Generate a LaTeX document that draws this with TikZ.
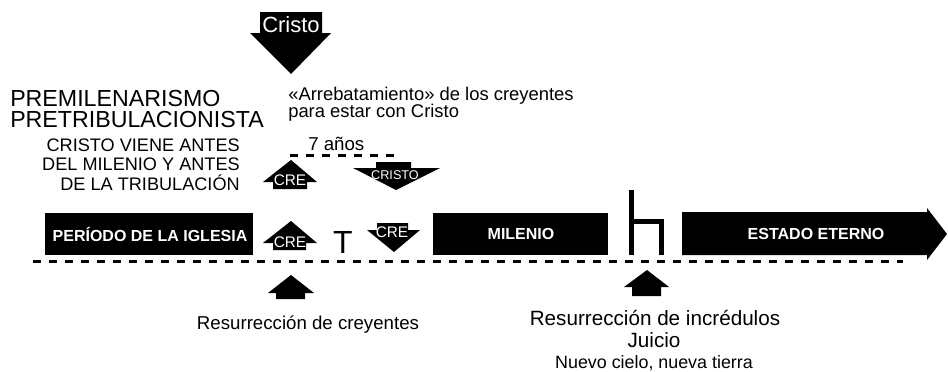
\documentclass[tikz,border=0pt]{standalone}
\usepackage{fontspec}
\setmainfont{Liberation Sans}
\usepackage{tikz}
\usetikzlibrary{positioning}

\begin{document}
\begin{tikzpicture}[x=0.75pt,y=-0.75pt]

	\tikzstyle{block} = [fill=black]
	\tikzstyle{dashline} = [line width=2.25pt, dash pattern=on 6pt off 6pt]
	\tikzstyle{intext} = [text=white, inner sep=0pt]
	\tikzstyle{barlabel} = [text=white, inner sep=0pt, font=\bfseries\fontsize{12}{14}\selectfont]
	\tikzstyle{plain} = [inner sep=0pt]
	\useasboundingbox (0,0) rectangle (948,371);

	% titulo
	\node[plain, anchor=base west, font=\fontsize{17.4}{20}\selectfont] (premil) at (10,106) {PREMILENARISMO};
	\node[plain, anchor=base west, font=\fontsize{17.4}{20}\selectfont] (pretrib) at (10,127) {PRETRIBULACIONISTA};
	\node[plain, anchor=base east, font=\fontsize{13.6}{16}\selectfont] (sub1) at (240,151) {CRISTO VIENE ANTES};
	\node[plain, anchor=base east, font=\fontsize{13.6}{16}\selectfont] (sub2) at (240,170) {DEL MILENIO Y ANTES};
	\node[plain, anchor=base east, font=\fontsize{13.6}{16}\selectfont] (sub3) at (240,190) {DE LA TRIBULACIÓN};

	% Cristo viene
	\fill[block] (260,12) -- (322,12) -- (322,33) -- (331,33) -- (291,74) -- (250,33) -- (260,33) -- cycle;
	\node[intext, anchor=base, font=\fontsize{16.5}{19}\selectfont] (cristo) at (291,32) {Cristo};

	\node[plain, anchor=base west, font=\fontsize{13.8}{16}\selectfont] (arreb) at (288,100) {«Arrebatamiento» de los creyentes};
	\node[plain, anchor=base west, font=\fontsize{13.8}{16}\selectfont] (estar) at (288,117) {para estar con Cristo};
	\node[plain, anchor=base west, font=\fontsize{14}{16}\selectfont] (anos) at (308,150) {7 años};
	\draw[dashline] (290,155) -- (394,155);

	% flechas de arriba
	\fill[block] (291,160) -- (317,182) -- (307,182) -- (307,189) -- (273,189) -- (273,182) -- (263,182) -- cycle;
	\node[intext, anchor=base, font=\fontsize{11.5}{13}\selectfont] (creA) at (290,185) {CRE};
	\fill[block] (376,162) -- (411,162) -- (411,168) -- (440,168) -- (396,190) -- (353,168) -- (376,168) -- cycle;
	\node[intext, anchor=base, font=\fontsize{9.5}{11}\selectfont] (cristoB) at (395,179) {CRISTO};

	% periodos
	\fill[block] (45,213) rectangle (253,255);
	\node[barlabel] (iglesia) at (150,234) {PERÍODO DE LA IGLESIA};
	\fill[block] (291,221) -- (317,243) -- (306,243) -- (306,250) -- (273,250) -- (273,243) -- (263,243) -- cycle;
	\node[intext, anchor=base, font=\fontsize{11.5}{13}\selectfont] (creB) at (290,247) {CRE};
	\node[plain, anchor=base, font=\fontsize{24}{28}\selectfont] (trib) at (343,253) {T};
	\fill[block] (377,223) -- (408,223) -- (408,230) -- (420,230) -- (394,252) -- (367,230) -- (377,230) -- cycle;
	\node[intext, anchor=base, font=\fontsize{11.5}{13}\selectfont] (creC) at (392,237) {CRE};
	\fill[block] (433,213) rectangle (608,255);
	\node[barlabel] (milenio) at (521,234) {MILENIO};
	\draw[line width=3.5pt, line join=miter] (631.5,190) -- (631.5,255) (631.5,221.5) -- (661.5,221.5) -- (661.5,255);
	\fill[block] (682,212) -- (927,212) -- (927,208) -- (947,234) -- (927,260) -- (927,255) -- (682,255) -- cycle;
	\node[barlabel] (eterno) at (816,234) {ESTADO ETERNO};

	\draw[dashline] (33,261) -- (903,261);

	% resurrecciones
	\fill[block] (291,275) -- (314,293) -- (305,293) -- (305,299) -- (276,299) -- (276,293) -- (268,293) -- cycle;
	\node[plain, anchor=base, font=\fontsize{14}{16}\selectfont] (resA) at (308,329) {Resurrección de creyentes};
	\fill[block] (647,270) -- (669,287) -- (661,287) -- (661,296) -- (632,296) -- (632,287) -- (624,287) -- cycle;
	\node[plain, anchor=base, font=\fontsize{15.5}{18}\selectfont] (resB) at (655,325) {Resurrección de incrédulos};
	\node[plain, anchor=base, font=\fontsize{15.5}{18}\selectfont] (juicio) at (654,347) {Juicio};
	\node[plain, anchor=base, font=\fontsize{13.4}{16}\selectfont] (nuevo) at (654,368) {Nuevo cielo, nueva tierra};

\end{tikzpicture}
\end{document}
